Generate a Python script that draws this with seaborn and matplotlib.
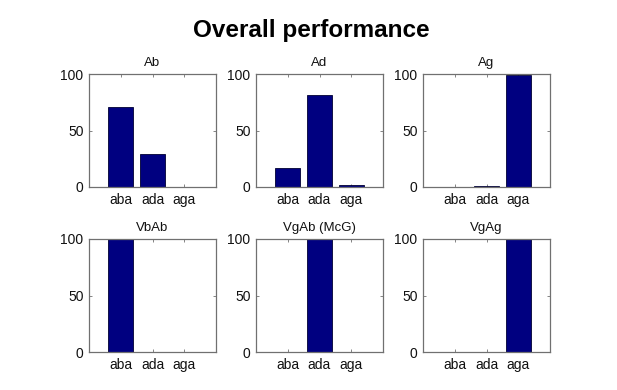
import matplotlib
matplotlib.use("Agg")
import matplotlib.pyplot as plt
import seaborn as sns
import pandas as pd

categories = ["aba", "ada", "aga"]
panel_titles = ["Ab", "Ad", "Ag", "VbAb", "VgAb (McG)", "VgAg"]
ab_values = [71, 29, 0]
ad_values = [17, 81, 2]
ag_values = [0, 0.5, 99.5]
vbab_values = [100, 0.4, 0]
vgab_values = [0, 100, 0]
vgag_values = [0, 0.4, 100]
yticks = [0, 50, 100]

sns.set_theme(style="white")
plt.rcParams["font.family"] = ["Liberation Sans", "DejaVu Sans"]

fig = plt.figure(figsize=(6.17, 3.90), dpi=100)
fig.patch.set_facecolor("white")

W, H = 617.0, 390.0
lefts = [89, 256, 423]
tops = [74, 239]
aw, ah = 127, 113

series = [ab_values, ad_values, ag_values, vbab_values, vgab_values, vgag_values]
navy = "#000080"

for i, (title, vals) in enumerate(zip(panel_titles, series)):
    r, c = divmod(i, 3)
    left = lefts[c] / W
    bottom = (H - tops[r] - ah) / H
    ax = fig.add_axes([left, bottom, aw / W, ah / H])
    df = pd.DataFrame({"cat": categories, "val": vals})
    sns.barplot(data=df, x="cat", y="val", ax=ax, color=navy, saturation=1,
                width=0.8, edgecolor="#000033", linewidth=0.6)
    ax.set_xlim(-1, 3)
    ax.set_ylim(0, 100)
    ax.set_yticks(yticks)
    ax.set_xlabel("")
    ax.set_ylabel("")
    ax.set_title(title, fontsize=9.5, pad=6, color="#111111")
    for sp in ax.spines.values():
        sp.set_visible(True)
        sp.set_color("#707070")
        sp.set_linewidth(0.9)
    ax.tick_params(axis="both", direction="in", length=2.5, width=0.6,
                   color="#707070", labelsize=10, labelcolor="#111111",
                   top=True, right=True, bottom=True, left=True, pad=4)
    ax.set_facecolor("white")

fig.text(0.505, 1 - 30 / H, "Overall performance", ha="center", va="center",
         fontsize=17.5, fontweight="bold", color="black")

fig.savefig("out.png", dpi=100, facecolor="white")
